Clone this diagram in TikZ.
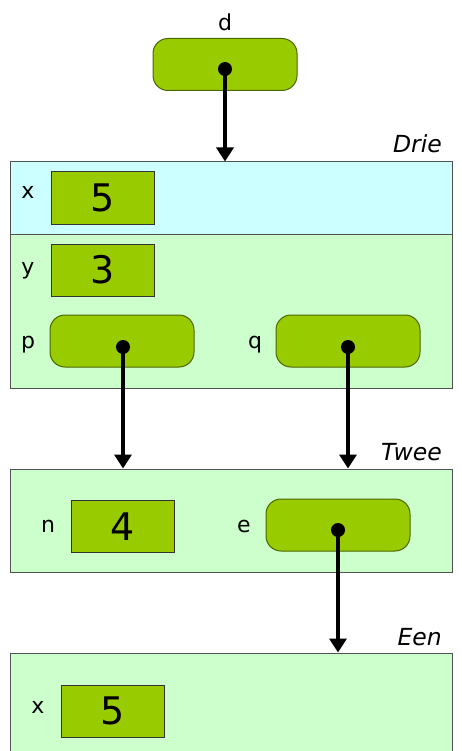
\documentclass[tikz,border=0pt]{standalone}
\usepackage{fontspec}
\setmainfont{DejaVu Sans}
\usetikzlibrary{arrows.meta}
\definecolor{cellgreen}{HTML}{99CC00}
\definecolor{cellrim}{HTML}{4D6600}
\definecolor{framecyan}{HTML}{CCFFFF}
\definecolor{framegreen}{HTML}{CCFFCC}
\definecolor{framerim}{HTML}{505050}
\tikzset{
  valbox/.style={draw=black!80, line width=1pt, fill=cellgreen, minimum width=103pt,
    minimum height=52pt, inner sep=0pt, font=\fontsize{38}{38}\selectfont},
  refbox/.style={draw=cellrim, line width=1pt, fill=cellgreen, rounded corners=15pt,
    minimum width=144pt, minimum height=52pt, inner sep=0pt},
  frame/.style={draw=framerim, line width=1pt, minimum width=442pt, inner sep=0pt},
  varname/.style={anchor=base, inner sep=0pt, font=\fontsize{22}{22}\selectfont},
  title/.style={anchor=base east, inner sep=0pt, font=\fontsize{23.5}{23.5}\selectfont\itshape},
  pdot/.style={circle, fill=black, minimum size=14pt, inner sep=0pt},
  ptr/.style={line width=3.8pt, -{Triangle[width=17pt,length=14pt]}},
}
\begin{document}
\begin{tikzpicture}[x=1pt, y=-1pt]
\clip (0,0) rectangle (461,751);
\fill[white] (0,0) rectangle (461,751);

% variable d
\node[varname] (dlabel) at (225,31) {d};
\node[refbox] (dbox) at (225,64.5) {};
\node[pdot] (ddot) at (225,69) {};

% frame Drie
\node[title] (drietitle) at (442,153) {Drie};
\node[frame, fill=framecyan, minimum height=72pt] (drietop) at (231,198) {};
\node[frame, fill=framegreen, minimum height=154pt] (driebot) at (231,311) {};
\node[varname] (xlabel) at (28,199) {x};
\node[valbox] (xval) at (102.5,198) {5};
\node[varname] (ylabel) at (28,274) {y};
\node[valbox] (yval) at (102.5,270) {3};
\node[varname] (plabel) at (28,348) {p};
\node[refbox] (pbox) at (122,341) {};
\node[pdot] (pdot) at (123,347) {};
\node[varname] (qlabel) at (255,348) {q};
\node[refbox] (qbox) at (348,341) {};
\node[pdot] (qdot) at (348,347) {};

% frame Twee
\node[title] (tweetitle) at (442,460) {Twee};
\node[frame, fill=framegreen, minimum height=103pt] (twee) at (231,520.5) {};
\node[varname] (nlabel) at (48,532) {n};
\node[valbox] (nval) at (122.5,526.5) {4};
\node[varname] (elabel) at (244,532) {e};
\node[refbox] (ebox) at (338,525) {};
\node[pdot] (edot) at (338,530) {};

% frame Een
\node[title] (eentitle) at (442,645) {Een};
\node[frame, fill=framegreen, minimum height=150pt] (een) at (231,728) {};
\node[varname] (x2label) at (38,713) {x};
\node[valbox] (x2val) at (112.5,711) {5};

% pointers
\draw[ptr] (ddot.center) -- (ddot.center |- drietop.north);
\draw[ptr] (pdot.center) -- (pdot.center |- twee.north);
\draw[ptr] (qdot.center) -- (qdot.center |- twee.north);
\draw[ptr] (edot.center) -- (edot.center |- een.north);
\end{tikzpicture}
\end{document}
